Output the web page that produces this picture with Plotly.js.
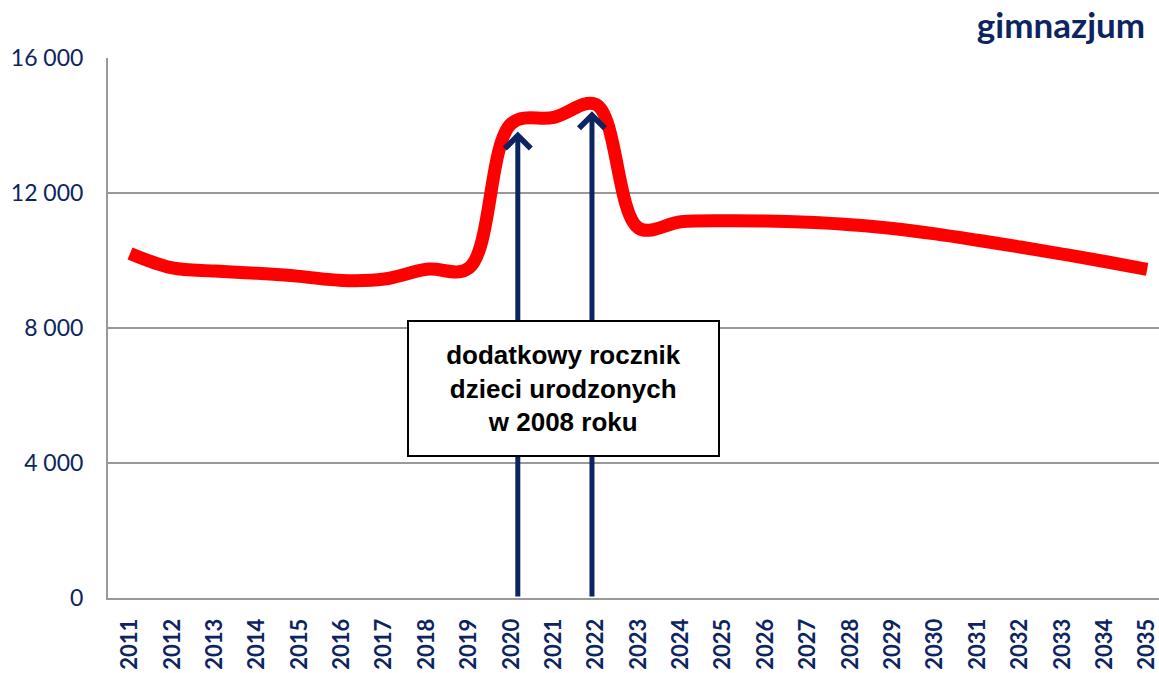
<!DOCTYPE html>
<html>
<head>
<meta charset="utf-8">
<script src="https://cdn.plot.ly/plotly-3.0.1.min.js"></script>
<style>html,body{margin:0;padding:0;background:#fff;}#chart{width:1159px;height:673px;}</style>
</head>
<body>
<div id="chart"></div>
<script>
const years = [2011,2012,2013,2014,2015,2016,2017,2018,2019,2020,2021,2022,2023,2024,2025,2026,2027,2028,2029,2030,2031,2032,2033,2034,2035];
const pupils = [10210,9780,9690,9620,9530,9410,9450,9740,9780,14060,14240,14620,10960,11150,11180,11170,11130,11060,10950,10790,10600,10400,10190,9970,9740];
const yTicks = [0,4000,8000,12000,16000];
const yTickLabels = ['0','4 000','8 000','12 000','16 000'];
const arrowYears = [2020.15, 2021.9];
const arrowTops = [13820, 14420];
const chartTitle = 'gimnazjum';
const boxLines = ['dodatkowy rocznik','dzieci urodzonych','w 2008 roku'];
const boxYear = 2021.23;
const boxValue = 6200;

const navy = '#0c2461';
const grid = '#999999';

const trace = {
  x: years, y: pupils, type: 'scatter', mode: 'lines',
  line: {color: '#ff0000', width: 13, shape: 'spline', smoothing: 1},
  hoverinfo: 'x+y'
};

const annotations = arrowYears.map((yr, i) => ({
  x: yr, y: arrowTops[i], xref: 'x', yref: 'y',
  ax: yr, ay: 0, axref: 'x', ayref: 'y',
  text: '', showarrow: true, arrowhead: 4, arrowsize: 1.0, arrowwidth: 5,
  arrowcolor: navy, standoff: 0, startstandoff: 0
}));
annotations.push({
  x: boxYear, y: boxValue, xref: 'x', yref: 'y', showarrow: false,
  text: boxLines.map(s => '<b>' + s + '</b>').join('<br>'), width: 305, height: 129,
  font: {family: 'Liberation Sans, Arial, sans-serif', size: 26, color: '#000'},
  bgcolor: '#ffffff', bordercolor: '#000000', borderwidth: 2, borderpad: 2,
  align: 'center', valign: 'middle'
});

const layout = {
  width: 1159, height: 673,
  margin: {l: 108, r: 0, t: 58, b: 75},
  paper_bgcolor: '#fff', plot_bgcolor: '#fff',
  showlegend: false,
  title: {text: '<b>' + chartTitle + '</b>', xref: 'container', yref: 'container', x: 0.988, xanchor: 'right', y: 0.962, yanchor: 'middle',
    font: {family: 'Lato, sans-serif', size: 35, color: navy}},
  xaxis: {
    range: [2010.48, 2035.28], tickmode: 'array', tickvals: years, ticktext: years.map(y => '<b>' + y + '</b>'),
    tickangle: -90, tickfont: {family: 'Lato, sans-serif', size: 22, color: navy},
    showgrid: false, zeroline: false, showline: true, linecolor: grid, linewidth: 2,
    ticks: '', ticklabelstandoff: 10, ticklabeloverflow: 'allow', fixedrange: true
  },
  yaxis: {
    range: [0, 16000], tickmode: 'array', tickvals: yTicks, ticktext: yTickLabels,
    tickfont: {family: 'Lato, sans-serif', size: 23, color: navy},
    showgrid: true, gridcolor: grid, gridwidth: 2, zeroline: false,
    showline: true, linecolor: grid, linewidth: 2, ticks: '', ticklabelstandoff: 18, fixedrange: true
  },
  annotations: annotations
};

Plotly.newPlot('chart', [trace], layout, {displayModeBar: false, staticPlot: true});
</script>
</body>
</html>
